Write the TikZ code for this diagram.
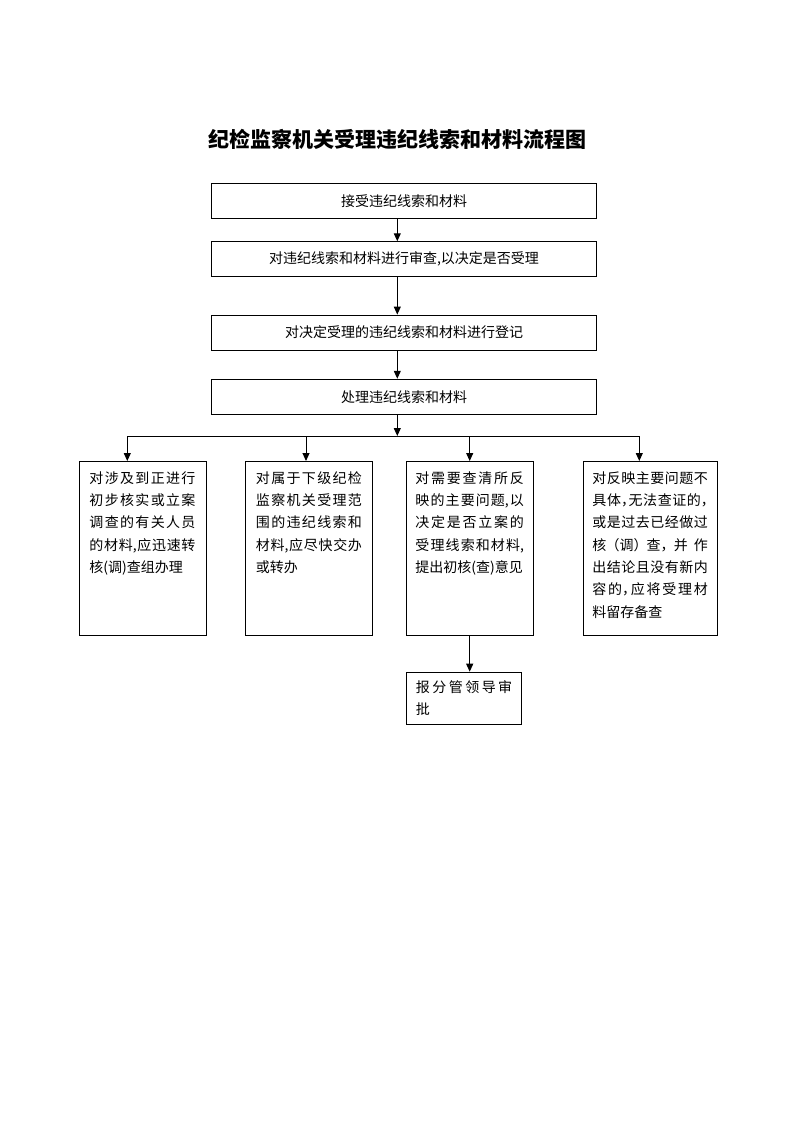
\documentclass[tikz,border=0pt]{standalone}
\usepackage{fontspec}
\setmainfont{Noto Sans CJK SC}
\usetikzlibrary{arrows.meta}
\XeTeXlinebreaklocale "zh"
\XeTeXlinebreakskip=0pt plus 3pt
\tolerance=10000
\hbadness=10000
\vbadness=10000
\hfuzz=5pt
\vfuzz=5pt
\newcommand{\tb}[3]{\parbox[t][#1][t]{#2}{\fontsize{14pt}{22.3pt}\selectfont #3}}
\tikzset{
  wide/.style={draw, line width=0.9pt, minimum width=385pt, minimum height=35pt, inner sep=0pt,
    font=\fontsize{14pt}{16pt}\selectfont},
  tall/.style={draw, line width=0.9pt, anchor=north west, inner xsep=10.5pt, inner ysep=10pt},
  small/.style={draw, line width=0.9pt, anchor=north west, inner xsep=9.5pt, inner ysep=8pt},
  arr/.style={line width=1pt, -{Triangle[length=8pt,width=7pt]}},
  conn/.style={line width=1pt}
}
\begin{document}
\begin{tikzpicture}[x=1pt,y=-1pt]
\useasboundingbox (0,0) rectangle (793,1122);
\fill[white] (0,0) rectangle (793,1122);

\node[font=\fontsize{21pt}{24pt}\selectfont\bfseries] (title) at (397,139) {纪检监察机关受理违纪线索和材料流程图};

\node[wide] (p1) at (404,200.8) {接受违纪线索和材料};
\node[wide] (p2) at (404,259.2) {对违纪线索和材料进行审查,以决定是否受理};
\node[wide] (p3) at (404,332.5) {对决定受理的违纪线索和材料进行登记};
\node[wide] (p4) at (404,396.7) {处理违纪线索和材料};

\node[tall] (A) at (78.5,461) {\tb{154pt}{106pt}{对涉及到正进行\linebreak 初步核实或立案\linebreak 调查的有关人员\linebreak 的材料,应迅速转\linebreak 核(调)查组办理}};
\node[tall] (B) at (245,461) {\tb{154pt}{106pt}{对属于下级纪检\linebreak 监察机关受理范\linebreak 围的违纪线索和\linebreak 材料,应尽快交办\linebreak 或转办}};
\node[tall, inner xsep=9pt] (C) at (406,461) {\tb{154pt}{108.5pt}{对需要查清所反\linebreak 映的主要问题,以\linebreak 决定是否立案的\linebreak 受理线索和材料,\linebreak \mbox{提出初核(查)意见}}};
\node[tall, inner xsep=9pt] (D) at (583,461) {\tb{154pt}{115.5pt}{\addfontfeature{RawFeature=+halt}对反映主要问题不\linebreak 具体，无法查证的，\linebreak 或是过去已经做过\linebreak 核（调）查，并作\linebreak 出结论且没有新内\linebreak 容的，应将受理材\linebreak 料留存备查}};
\node[small] (E) at (406,671.7) {\tb{36.3pt}{96.3pt}{报分管领导审\linebreak 批}};

\coordinate (ax) at (397.3,0);
\coordinate (hl) at (127.3,436);
\coordinate (hb) at (306,436);
\coordinate (hr) at (639.3,436);

\draw[arr] (p1.south -| ax) -- (p2.north -| ax);
\draw[arr] (p2.south -| ax) -- (p3.north -| ax);
\draw[arr] (p3.south -| ax) -- (p4.north -| ax);
\draw[arr] (p4.south -| ax) -- (ax |- hl);
\draw[conn] (hl) -- (hr);
\draw[arr] (hl) -- (hl |- A.north);
\draw[arr] (hb) -- (hb |- B.north);
\draw[arr] (C.north |- hl) -- (C.north);
\draw[arr] (hr) -- (hr |- D.north);
\draw[arr] (C.south) -- (C.south |- E.north);
\end{tikzpicture}
\end{document}
